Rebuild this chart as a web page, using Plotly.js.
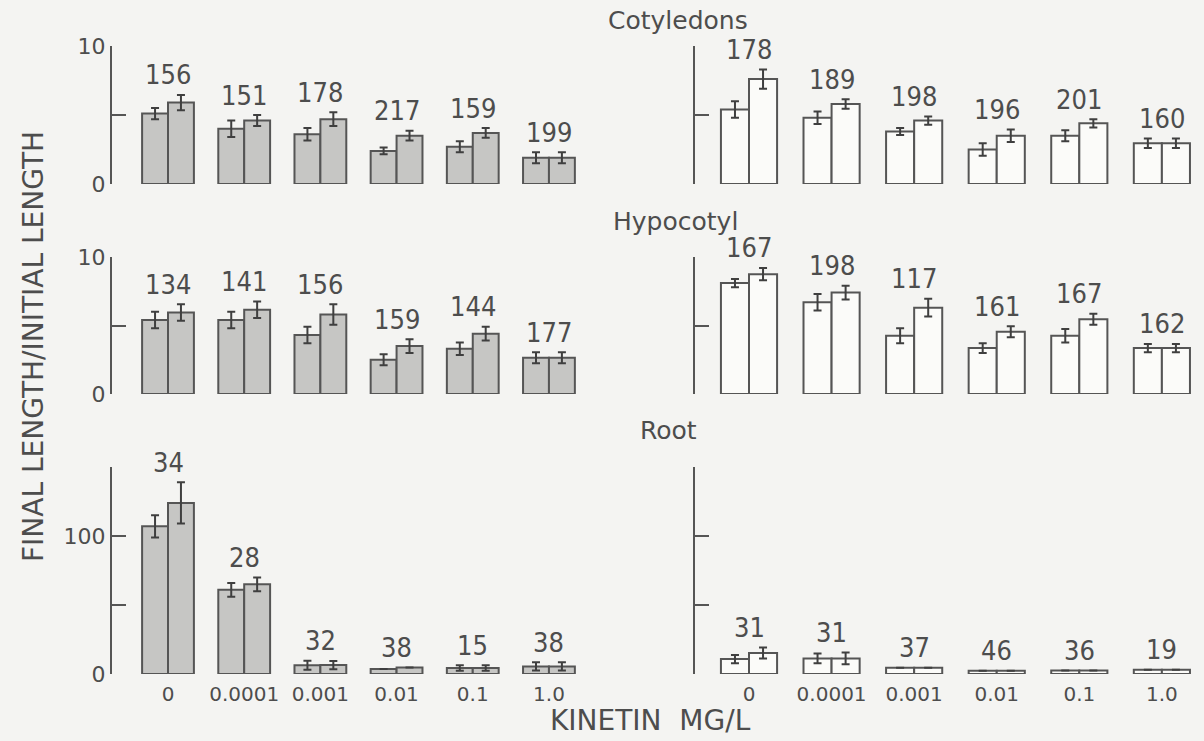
<!DOCTYPE html>
<html>
<head>
<meta charset="utf-8">
<script src="https://cdn.plot.ly/plotly-3.0.1.min.js"></script>
<style>html,body{margin:0;padding:0;background:#f4f4f2;}</style>
</head>
<body>
<div id="chart" style="width:1204px;height:741px;"></div>
<script>
// ---- data ----
const doses = ['0', '0.0001', '0.001', '0.01', '0.1', '1.0'];

// Cotyledons, shaded bars (left panel)
const cotShadedA    = [5.1, 4.0, 3.6, 2.4, 2.7, 1.9];
const cotShadedAErr = [0.4, 0.6, 0.45, 0.25, 0.4, 0.4];
const cotShadedB    = [5.9, 4.6, 4.7, 3.5, 3.7, 1.9];
const cotShadedBErr = [0.55, 0.4, 0.5, 0.35, 0.35, 0.4];
const cotShadedN    = [156, 151, 178, 217, 159, 199];
// Cotyledons, open bars (right panel)
const cotOpenA      = [5.4, 4.8, 3.8, 2.5, 3.5, 2.95];
const cotOpenAErr   = [0.6, 0.45, 0.25, 0.45, 0.4, 0.35];
const cotOpenB      = [7.6, 5.8, 4.6, 3.5, 4.4, 2.95];
const cotOpenBErr   = [0.7, 0.35, 0.3, 0.45, 0.3, 0.35];
const cotOpenN      = [178, 189, 198, 196, 201, 160];

// Hypocotyl, shaded bars
const hypShadedA    = [5.4, 5.4, 4.3, 2.5, 3.3, 2.65];
const hypShadedAErr = [0.6, 0.6, 0.6, 0.4, 0.45, 0.4];
const hypShadedB    = [5.95, 6.15, 5.8, 3.5, 4.4, 2.65];
const hypShadedBErr = [0.6, 0.6, 0.75, 0.5, 0.5, 0.4];
const hypShadedN    = [134, 141, 156, 159, 144, 177];
// Hypocotyl, open bars
const hypOpenA      = [8.1, 6.7, 4.25, 3.35, 4.25, 3.35];
const hypOpenAErr   = [0.3, 0.6, 0.55, 0.35, 0.5, 0.3];
const hypOpenB      = [8.75, 7.4, 6.3, 4.55, 5.45, 3.35];
const hypOpenBErr   = [0.45, 0.5, 0.65, 0.4, 0.4, 0.3];
const hypOpenN      = [167, 198, 117, 161, 167, 162];

// Root, shaded bars
const rootShadedA    = [107, 61, 6.3, 3.6, 4.3, 5.5];
const rootShadedAErr = [8, 5, 3.3, 0, 2, 3];
const rootShadedB    = [124, 65, 6.5, 4.8, 4.3, 5.5];
const rootShadedBErr = [15, 5, 3, 0, 2, 3];
const rootShadedN    = [34, 28, 32, 38, 15, 38];
// Root, open bars
const rootOpenA      = [10.8, 11.3, 4.6, 2.4, 2.6, 3.1];
const rootOpenAErr   = [3, 3.6, 0, 0, 0, 0];
const rootOpenB      = [15.2, 11.3, 4.6, 2.4, 2.6, 3.1];
const rootOpenBErr   = [4, 4.2, 0, 0, 0, 0];
const rootOpenN      = [31, 31, 37, 46, 36, 19];

const rowTitles = ['Cotyledons', 'Hypocotyl', 'Root'];

// ---- styling / layout ----
const W = 1204, H = 741;
const INK = '#555555';
const TXT = '#4d4d4d';
const FONT = 'DejaVu Sans, Noto Sans, sans-serif';
const NUMFONT = 'Liberation Sans Narrow, DejaVu Sans Condensed, DejaVu Sans, sans-serif';

const panels = [
  {row:0, side:'L', a:cotShadedA, ae:cotShadedAErr, b:cotShadedB, be:cotShadedBErr, n:cotShadedN},
  {row:0, side:'R', a:cotOpenA, ae:cotOpenAErr, b:cotOpenB, be:cotOpenBErr, n:cotOpenN},
  {row:1, side:'L', a:hypShadedA, ae:hypShadedAErr, b:hypShadedB, be:hypShadedBErr, n:hypShadedN},
  {row:1, side:'R', a:hypOpenA, ae:hypOpenAErr, b:hypOpenB, be:hypOpenBErr, n:hypOpenN},
  {row:2, side:'L', a:rootShadedA, ae:rootShadedAErr, b:rootShadedB, be:rootShadedBErr, n:rootShadedN},
  {row:2, side:'R', a:rootOpenA, ae:rootOpenAErr, b:rootOpenB, be:rootOpenBErr, n:rootOpenN}
];

// pixel geometry (top, bottom of y axis) per row
const rowPix = [
  {top:46, bot:184, range:[0,10], tv:[0,5,10], tt:['0','','10']},
  {top:257, bot:394, range:[0,10], tv:[0,5,10], tt:['0','','10']},
  {top:467, bot:674, range:[0,150], tv:[0,50,100,150], tt:['0','','100','']}
];
const sidePix = {
  L:{left:112, right:600, range:[-0.735, 5.67], fill:'#c6c6c4'},
  R:{left:695, right:1204, range:[-0.654, 5.51], fill:'#fbfbf9'}
};

const traces = [];
const layout = {
  width: W, height: H,
  margin: {l:0, r:0, t:0, b:0},
  paper_bgcolor: '#f4f4f2',
  plot_bgcolor: 'rgba(0,0,0,0)',
  showlegend: false,
  barmode: 'group',
  bargap: 0.32,
  bargroupgap: 0,
  font: {family: FONT, color: TXT},
  annotations: []
};

panels.forEach((p, i) => {
  const k = i + 1;
  const xa = 'x' + (k === 1 ? '' : k);
  const ya = 'y' + (k === 1 ? '' : k);
  const rp = rowPix[p.row];
  const sp = sidePix[p.side];
  const errStyle = {type:'data', visible:true, color:'#3f3f3f', thickness:2, width:4};
  [[p.a, p.ae], [p.b, p.be]].forEach(([vals, errs]) => {
    traces.push({
      type: 'bar', x: doses, y: vals, xaxis: xa, yaxis: ya,
      marker: {color: sp.fill, line: {color: INK, width: 2}},
      error_y: Object.assign({array: errs}, errStyle),
      hoverinfo: 'skip', cliponaxis: false
    });
  });
  const xKey = 'xaxis' + (k === 1 ? '' : k);
  const yKey = 'yaxis' + (k === 1 ? '' : k);
  layout[xKey] = {
    type: 'category', categoryarray: doses,
    domain: [sp.left / W, sp.right / W],
    range: sp.range, anchor: ya,
    showline: false, showgrid: false, zeroline: false,
    showticklabels: p.row === 2,
    ticks: p.row === 2 ? 'outside' : '', ticklen: 2, tickcolor: 'rgba(0,0,0,0)',
    tickfont: {size: 20, color: TXT, family: FONT}
  };
  layout[yKey] = {
    domain: [1 - rp.bot / H, 1 - rp.top / H],
    range: rp.range, anchor: xa,
    showline: true, linecolor: INK, linewidth: 2,
    ticks: 'inside', ticklen: 14, tickwidth: 2, tickcolor: INK,
    tickvals: rp.tv, ticktext: p.side === 'L' ? rp.tt : rp.tv.map(() => ''),
    showgrid: false, zeroline: false,
    tickfont: {size: 22, color: TXT, family: FONT}
  };
  // group labels (sample sizes); x given as category index
  doses.forEach((d, j) => {
    const top = Math.max(p.a[j] + p.ae[j], p.b[j] + p.be[j]);
    layout.annotations.push({
      xref: xa, yref: ya, x: j, y: top, text: String(p.n[j]),
      showarrow: false, xanchor: 'center', yanchor: 'middle', yshift: 20,
      font: {size: 27, color: TXT, family: NUMFONT}
    });
  });
});

// row titles
const titleX = [678, 675, 668];
const titleY = [20, 221, 430];
rowTitles.forEach((t, r) => {
  layout.annotations.push({
    xref: 'paper', yref: 'paper', x: titleX[r] / W, y: 1 - titleY[r] / H,
    text: t, showarrow: false, xanchor: 'center', yanchor: 'middle',
    font: {size: 25, color: TXT, family: FONT}
  });
});
// axis titles
layout.annotations.push({
  xref: 'paper', yref: 'paper', x: 33 / W, y: 1 - 347 / H,
  text: 'FINAL LENGTH/INITIAL LENGTH', textangle: -90, showarrow: false,
  xanchor: 'center', yanchor: 'middle',
  font: {size: 28, color: TXT, family: FONT}
});
layout.annotations.push({
  xref: 'paper', yref: 'paper', x: 650 / W, y: 1 - 739 / H,
  text: 'KINETIN  MG/L', showarrow: false, xanchor: 'center', yanchor: 'bottom',
  font: {size: 28, color: TXT, family: FONT}
});

Plotly.newPlot('chart', traces, layout, {staticPlot: true, displayModeBar: false});
</script>
</body>
</html>
